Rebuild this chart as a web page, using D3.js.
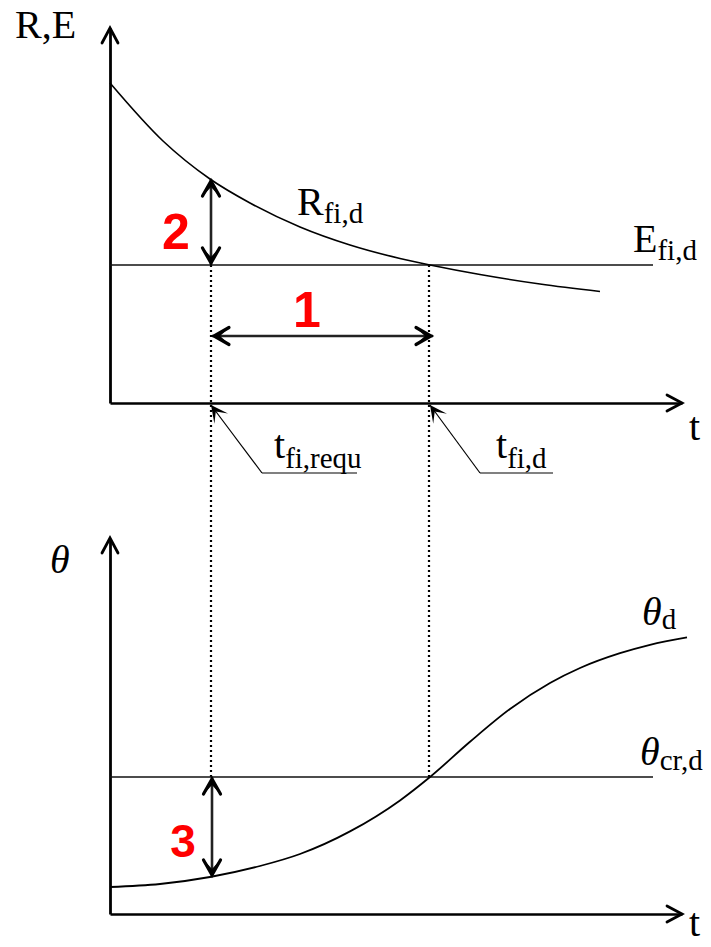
<!DOCTYPE html>
<html>
<head>
<meta charset="utf-8">
<script src="https://cdn.jsdelivr.net/npm/d3@7"></script>
<style>
  html, body { margin: 0; padding: 0; background: #fff; }
  svg { display: block; }
</style>
</head>
<body>
<svg id="chart" width="711" height="947"></svg>
<script>
// Resistance R_fi,d decaying with time t, against the constant effect E_fi,d
const tR   = [0, 5.3, 10, 14, 19, 24, 29, 32, 37, 43, 49];
const valR = [32, 26.2, 22.4, 20.0, 17.6, 15.8, 14.45, 13.8, 12.85, 11.9, 11.15];
const valE = 13.8;
const tEEnd = 54.3;

// Temperature θ_d rising with time t, against the critical temperature θ_cr,d
const tTheta   = [0, 5, 10, 15, 19, 24, 29, 32, 36, 40, 44, 47, 51, 54, 57.7];
const valTheta = [2.7, 3.0, 3.7, 4.8, 6.0, 8.26, 11.36, 13.7, 17.22, 20.5, 23.1, 24.6, 26.08, 26.92, 27.66];
const valThetaCr = 13.7;

// Characteristic times
const tReq = 10;   // t_fi,requ
const tD   = 32;   // t_fi,d

const svg = d3.select("#chart");
const serif = "'Liberation Serif', 'Times New Roman', serif";
const sans  = "'Liberation Sans', Arial, sans-serif";

const x = d3.scaleLinear().domain([0, 57]).range([110, 680]);
const yTop = d3.scaleLinear().domain([0, 37.5]).range([403, 28]);
const yBot = d3.scaleLinear().domain([0, 37.5]).range([914, 539]);
const xAxisEnd = d3.scaleLinear().domain([0, 57]).range([110, 682]);

// ---------- helpers ----------
function chevron(tipX, tipY, dirDeg, len, half, width, color) {
  const a = dirDeg * Math.PI / 180;
  const bx = -Math.cos(a), by = -Math.sin(a);
  const px = -by, py = bx;
  const p1 = [tipX + bx * len + px * half, tipY + by * len + py * half];
  const p2 = [tipX + bx * len - px * half, tipY + by * len - py * half];
  svg.append("path")
    .attr("d", `M${p1[0]},${p1[1]}L${tipX},${tipY}L${p2[0]},${p2[1]}`)
    .attr("fill", "none").attr("stroke", color || "#000")
    .attr("stroke-width", width).attr("stroke-linejoin", "miter")
    .attr("stroke-linecap", "round");
}

// barbed filled arrow head
function barb(tipX, tipY, dirDeg, len, half, notch, fill) {
  const a = dirDeg * Math.PI / 180;
  const bx = -Math.cos(a), by = -Math.sin(a);
  const px = -by, py = bx;
  const pts = [
    [tipX, tipY],
    [tipX + bx * len + px * half, tipY + by * len + py * half],
    [tipX + bx * notch, tipY + by * notch],
    [tipX + bx * len - px * half, tipY + by * len - py * half]
  ];
  svg.append("path").attr("d", "M" + pts.map(p => p.join(",")).join("L") + "Z")
    .attr("fill", fill || "#000").attr("stroke", "none");
}

function dimArrow(x1, y1, x2, y2) {
  const ang = Math.atan2(y2 - y1, x2 - x1) * 180 / Math.PI;
  svg.append("line").attr("x1", x1).attr("y1", y1).attr("x2", x2).attr("y2", y2)
    .attr("stroke", "#222").attr("stroke-width", 2.6);
  [[x2, y2, ang], [x1, y1, ang + 180]].forEach(([tx, ty, a]) => {
    const r = a * Math.PI / 180;
    // pull the stroked chevron back so its mitred point sits on the tip
    const ox = tx - Math.cos(r) * 2, oy = ty - Math.sin(r) * 2;
    barb(ox, oy, a, 15, 8, 6);
    chevron(ox, oy, a, 15, 8.5, 3.2, "#000");
  });
}

function label(xp, yp, main, sub, opts) {
  opts = opts || {};
  const t = svg.append("text").attr("x", xp).attr("y", yp)
    .attr("font-family", serif).attr("fill", "#000");
  t.append("tspan").attr("font-size", opts.size || 40)
    .attr("font-style", opts.italic ? "italic" : "normal").text(main);
  if (sub) {
    t.append("tspan").attr("font-size", opts.subSize || 29)
      .attr("dy", opts.subDy || 8).text(sub);
  }
  return t;
}

function axes(yScale, yAxisTop) {
  const y0 = yScale(0);
  const gx = svg.append("g").attr("transform", `translate(0,${y0})`)
    .call(d3.axisBottom(xAxisEnd).tickValues([]).tickSizeOuter(0));
  gx.select(".domain").attr("stroke", "#000").attr("stroke-width", 2.6);
  const gy = svg.append("g").attr("transform", `translate(${x(0)},0)`)
    .call(d3.axisLeft(yScale).tickValues([]).tickSizeOuter(0));
  gy.select(".domain").attr("stroke", "#000").attr("stroke-width", 2.8);
  chevron(xAxisEnd(57), y0, 0, 15, 8, 2.8);
  chevron(x(0), yAxisTop, -90, 15, 8, 2.8);
}

// ---------- dotted projection lines ----------
function dotted(xp, ya, yb) {
  svg.append("line").attr("x1", xp).attr("x2", xp).attr("y1", ya).attr("y2", yb)
    .attr("stroke", "#000").attr("stroke-width", 2.2)
    .attr("stroke-dasharray", "2,3");
}
dotted(x(tReq) + 1, yTop(valE), yBot(valThetaCr));
dotted(x(tD) - 1, yTop(valE), yBot(valThetaCr));

// ---------- top panel ----------
axes(yTop, 28);

svg.append("line")
  .attr("x1", x(0)).attr("x2", x(tEEnd))
  .attr("y1", yTop(valE)).attr("y2", yTop(valE))
  .attr("stroke", "#111").attr("stroke-width", 1.6);

const lineR = d3.line().x((d, i) => x(tR[i])).y(d => yTop(d)).curve(d3.curveMonotoneX);
svg.append("path").attr("d", lineR(valR))
  .attr("fill", "none").attr("stroke", "#000").attr("stroke-width", 1.6);

label(15, 38, "R,E");
label(297, 215, "R", "fi,d");
label(633, 252, "E", "fi,d");
label(689, 440, "t");

// dimension 1: time margin
dimArrow(x(tReq) + 2, 336, x(tD) + 3, 336);
svg.append("text").attr("x", 307).attr("y", 327).attr("text-anchor", "middle")
  .attr("font-family", sans).attr("font-weight", "bold").attr("font-size", 50)
  .attr("fill", "#ff0000").text("1");

// dimension 2: resistance margin at t_fi,requ
const rAtReq = valR[tR.indexOf(tReq)];
dimArrow(x(tReq) + 1, yTop(valE), x(tReq) + 1, yTop(rAtReq));
svg.append("text").attr("x", 176).attr("y", 249).attr("text-anchor", "middle")
  .attr("font-family", sans).attr("font-weight", "bold").attr("font-size", 50)
  .attr("fill", "#ff0000").text("2");

// leader labels for the characteristic times
function leader(tipX, tipY, elbowX, elbowY, endX) {
  svg.append("line").attr("x1", elbowX).attr("y1", elbowY).attr("x2", endX).attr("y2", elbowY)
    .attr("stroke", "#808080").attr("stroke-width", 2);
  svg.append("line").attr("x1", elbowX).attr("y1", elbowY).attr("x2", tipX).attr("y2", tipY)
    .attr("stroke", "#000").attr("stroke-width", 1.2);
  const ang = Math.atan2(tipY - elbowY, tipX - elbowX) * 180 / Math.PI;
  barb(tipX, tipY, ang, 17, 8.5, 8);
}
leader(x(tReq) + 1, yTop(0) + 2, 262, 473, 357);
label(274, 458, "t", "fi,requ", { subDy: 10 });
leader(x(tD), yTop(0) + 2, 480, 473, 553);
label(496, 458, "t", "fi,d", { subDy: 10 });

// ---------- bottom panel ----------
axes(yBot, 538);

svg.append("line")
  .attr("x1", x(0)).attr("x2", x(tEEnd))
  .attr("y1", yBot(valThetaCr)).attr("y2", yBot(valThetaCr))
  .attr("stroke", "#111").attr("stroke-width", 1.6);

const lineT = d3.line().x((d, i) => x(tTheta[i])).y(d => yBot(d)).curve(d3.curveMonotoneX);
svg.append("path").attr("d", lineT(valTheta))
  .attr("fill", "none").attr("stroke", "#000").attr("stroke-width", 1.8);

label(50, 573, "θ", null, { italic: true });
label(642, 625, "θ", "d", { italic: true, subDy: 4 });
label(640, 765, "θ", "cr,d", { italic: true, subDy: 5 });
label(689, 936, "t");

// dimension 3: temperature margin at t_fi,requ
const thAtReq = valTheta[tTheta.indexOf(tReq)];
dimArrow(x(tReq) + 2, yBot(valThetaCr), x(tReq) + 2, yBot(thAtReq));
svg.append("text").attr("x", 183).attr("y", 857).attr("text-anchor", "middle")
  .attr("font-family", sans).attr("font-weight", "bold").attr("font-size", 46)
  .attr("fill", "#ff0000").text("3");
</script>
</body>
</html>
